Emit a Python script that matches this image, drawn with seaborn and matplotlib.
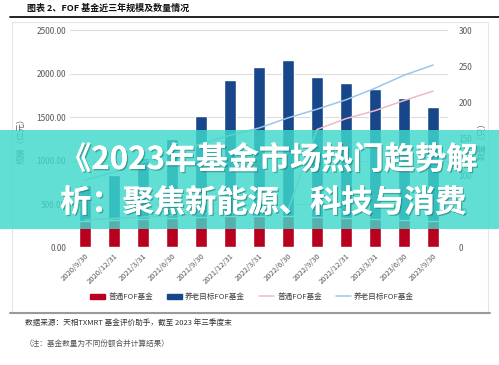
import matplotlib
matplotlib.use("Agg")

import matplotlib.pyplot as plt
import matplotlib.patheffects as pe
import seaborn as sns
import pandas as pd
from matplotlib.patches import Rectangle
from matplotlib.lines import Line2D
from matplotlib.patches import Patch

dates = ["2020/9/30", "2020/12/31", "2021/3/31", "2021/6/30", "2021/9/30",
         "2021/12/31", "2022/3/31", "2022/6/30", "2022/9/30", "2022/12/31",
         "2023/3/31", "2023/6/30", "2023/9/30"]
# 规模（亿元）
normal_scale = [310, 320, 330, 340, 350, 360, 360, 360, 350, 340, 330, 320, 310]
pension_scale = [410, 515, 700, 910, 1165, 1570, 1720, 1800, 1610, 1555, 1495, 1405, 1310]
# 数量（只）
normal_count = [38, 40, 42, 44, 46, 48, 50, 52, 163, 178, 189, 203, 216]
pension_count = [93, 104, 118, 130, 143, 155, 165, 179, 191, 204, 220, 238, 252]

red = "#b8001f"
navy = "#17478a"
pink = "#f2b8c6"
sky = "#9cc6e8"

sns.set_theme(style="white")
plt.rcParams["font.family"] = ["Noto Sans CJK SC", "DejaVu Sans"]

df = pd.DataFrame({"date": dates,
                   "total": [a + b for a, b in zip(normal_scale, pension_scale)],
                   "normal": normal_scale,
                   "idx": range(len(dates)),
                   "n_count": normal_count,
                   "p_count": pension_count})

fig = plt.figure(figsize=(4.99, 3.65), dpi=100)
ax = fig.add_axes([0.141, 0.322, 0.756, 0.595])

sns.barplot(data=df, x="date", y="total", color=navy, width=0.42,
            saturation=1, ax=ax)
sns.barplot(data=df, x="date", y="normal", color=red, width=0.42,
            saturation=1, ax=ax)
ax.set_ylim(0, 2500)
ax.set_xlim(-0.5, len(dates) - 0.5)
ax.set_yticks([0, 500, 1000, 1500, 2000, 2500])
ax.set_yticklabels([f"{v:.2f}" for v in [0, 500, 1000, 1500, 2000, 2500]],
                   fontsize=6, color="#595959")
ax.set_xticks(range(len(dates)))
ax.set_xticklabels(dates, rotation=45, ha="right", rotation_mode="anchor",
                   fontsize=5.5, color="#595959")
ax.yaxis.grid(True, color="#dcdcdc", linewidth=0.8)
ax.set_axisbelow(True)
ax.set_xlabel("")
ax.set_ylabel("规模（亿元）", fontsize=6, color="#595959", labelpad=8)
for s in ax.spines.values():
    s.set_visible(False)
ax.tick_params(axis="both", length=0, pad=3)

ax2 = ax.twinx()
sns.lineplot(data=df, x="idx", y="n_count", color=pink, linewidth=1.1,
             sort=False, ax=ax2)
sns.lineplot(data=df, x="idx", y="p_count", color=sky, linewidth=1.1,
             sort=False, ax=ax2)
ax2.set_ylim(0, 300)
ax2.set_yticks([0, 50, 100, 150, 200, 250, 300])
ax2.set_yticklabels(["0", "50", "100", "150", "200", "250", "300"],
                    fontsize=6, color="#595959")
ax2.set_ylabel("数量（只）", fontsize=6, color="#595959", labelpad=4)
for s in ax2.spines.values():
    s.set_visible(False)
ax2.tick_params(axis="y", length=0, pad=8)
ax2.grid(False)

handles = [Patch(color=red), Patch(color=navy),
           Line2D([], [], color=pink, lw=1.1), Line2D([], [], color=sky, lw=1.1)]
labels = ["普通FOF基金", "养老目标FOF基金", "普通FOF基金", "养老目标FOF基金"]
fig.legend(handles, labels, loc="center", bbox_to_anchor=(252 / 499, 1 - 297 / 365),
           ncol=4, frameon=False, fontsize=5.5, handlelength=2.0,
           handleheight=0.6, handletextpad=0.4, columnspacing=1.8,
           labelcolor="#404040")

# frame and rules
fig.add_artist(Rectangle((12 / 499, 1 - 313 / 365), 476 / 499, 291 / 365,
                         transform=fig.transFigure, fill=False,
                         edgecolor="#e6e6e6", linewidth=0.8))
fig.add_artist(Line2D([10 / 499, 490 / 499], [1 - 313 / 365] * 2,
                      transform=fig.transFigure, color="#9a9a9a", lw=1.5))
fig.add_artist(Line2D([10 / 499, 499 / 499], [1 - 17 / 365] * 2,
                      transform=fig.transFigure, color="#111111", lw=1.3))

fig.text(27 / 499, 1 - 8 / 365, "图表 2、FOF 基金近三年规模及数量情况",
         fontsize=6.5, fontweight="bold", va="center", color="#111111")
fig.text(25 / 499, 1 - 323 / 365, "数据来源：天相TXMRT 基金评价助手，截至 2023 年三季度末",
         fontsize=5.5, va="center", color="#333333")
fig.text(25 / 499, 1 - 344 / 365, "（注：基金数量为不同份额合并计算结果）",
         fontsize=5.5, va="center", color="#555555")

# overlay banner
fig.add_artist(Rectangle((0, 1 - 229 / 365), 1, 99 / 365,
                         transform=fig.transFigure, facecolor="#3fd9cc",
                         alpha=0.82, edgecolor="none", zorder=10))
shadow = [pe.withSimplePatchShadow(offset=(1, -1), shadow_rgbFace="#1a6f69", alpha=0.5),
          pe.Normal()]
fig.text(60 / 499, 1 - 160 / 365, "《2023年基金市场热门趋势解",
         fontsize=22.5, fontweight="bold", color="white", va="center",
         zorder=11, path_effects=shadow)
fig.text(60 / 499, 1 - 203 / 365, "析：聚焦新能源、科技与消费",
         fontsize=22.5, fontweight="bold", color="white", va="center",
         zorder=11, path_effects=shadow)

fig.savefig("out.png", dpi=100)
plt.close(fig)
